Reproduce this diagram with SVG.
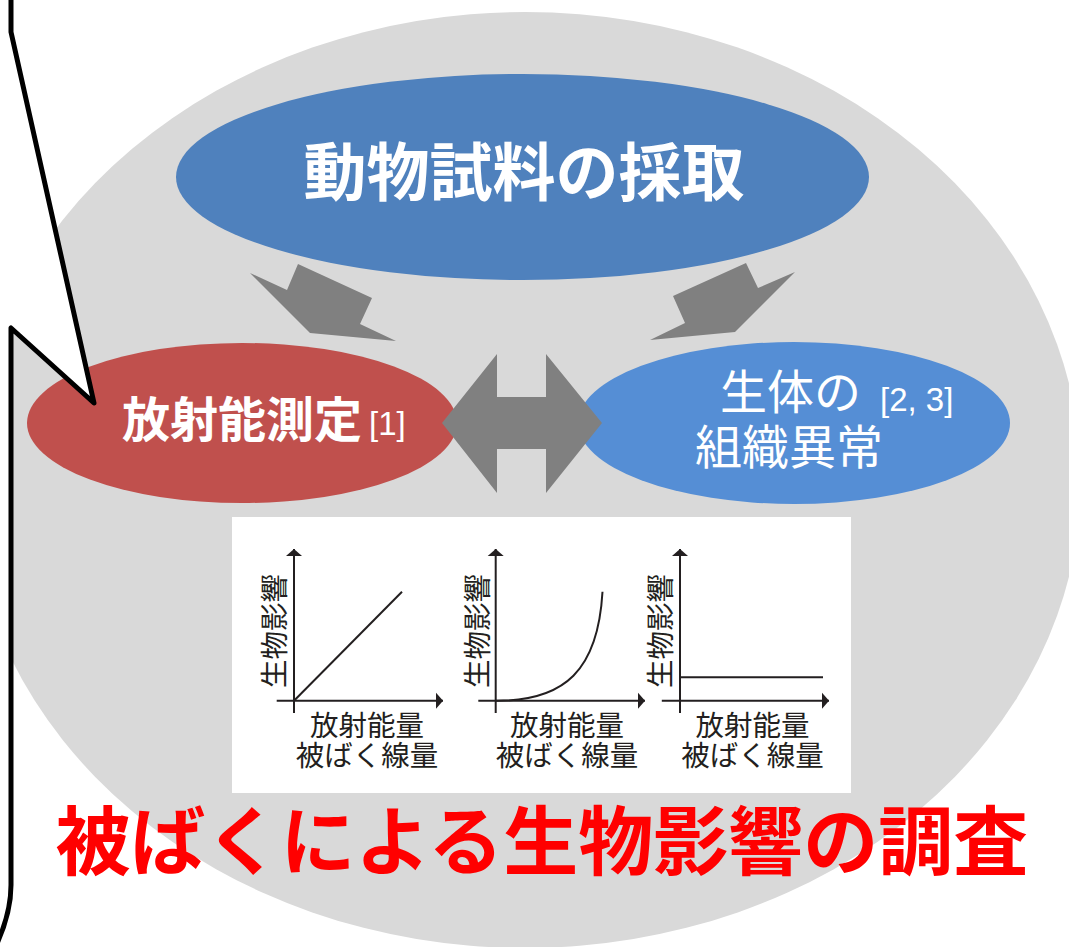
<svg xmlns="http://www.w3.org/2000/svg" width="1069" height="947" viewBox="0 0 1069 947">
<style>
.jp{font-family:"Noto Sans CJK JP","Noto Sans CJK SC",sans-serif}
.lat{font-family:"Liberation Sans",Arial,sans-serif}
.wb{fill:#fff;font-weight:700}
.wr{fill:#fff;font-weight:400}
.ax{stroke:#231f20;stroke-width:2;fill:none}
.lbl{fill:#231f20;font-size:28.5px;font-weight:400}
.arr{fill:#808080}
</style>
<defs>
<marker id="ah" markerUnits="userSpaceOnUse" markerWidth="10" markerHeight="18" viewBox="0 -9 8 18" refX="7" refY="0" orient="auto">
<path d="M0,-8 L7,0 L0,8 Z" fill="#231f20"/>
</marker>
</defs>

<g id="background">
<ellipse cx="525" cy="480" rx="556" ry="468" fill="#d9d9d9"/>
</g>

<g id="node-sampling">
<ellipse cx="522.5" cy="177" rx="346.5" ry="103" fill="#4f81bd"/>
<text class="jp wb" x="524" y="194.5" font-size="63" text-anchor="middle">動物試料の採取</text>
</g>

<g id="connectors">
<polygon class="arr" points="250,273 287,290 298,264 372,298 360,324 396,341 310,333"/>
<polygon class="arr" points="673,296 746,263 758,288 795,272 735,332 650,340 685,323"/>
</g>

<g id="node-radioactivity">
<ellipse cx="242" cy="423" rx="215" ry="80" fill="#c0504d"/>
<text class="jp wb" x="122" y="437" font-size="48">放射能測定</text>
<text class="lat wr" x="369" y="435" font-size="33">[1]</text>
</g>

<g id="node-tissue">
<ellipse cx="794" cy="423" rx="216" ry="81" fill="#558ed5"/>
<text class="jp wr" x="720" y="409" font-size="47">生体の</text>
<text class="lat wr" x="880" y="411" font-size="33">[2, 3]</text>
<text class="jp wr" x="695" y="464" font-size="47">組織異常</text>
</g>

<g id="connector-double">
<polygon class="arr" points="442,423 497,354 497,397 546,397 546,354 602,423 546,493 546,449 497,449 497,493"/>
</g>

<g id="graphs">
<rect x="232" y="517" width="619" height="276" fill="#fff"/>
<g id="graph-linear">
<path class="ax" d="M294,713 V549" marker-end="url(#ah)"/>
<path class="ax" d="M276.7,700.7 H443" marker-end="url(#ah)"/>
<path class="ax" d="M294,700.7 L402,591.7"/>
<text class="jp lbl" transform="translate(284.5,631) rotate(-90)" text-anchor="middle">生物影響</text>
<text class="jp lbl" x="367" y="736" text-anchor="middle">放射能量</text>
<text class="jp lbl" x="367" y="766" text-anchor="middle">被ばく線量</text>
</g>
<g id="graph-exponential">
<path class="ax" d="M495.7,713 V549" marker-end="url(#ah)"/>
<path class="ax" d="M478.3,700.7 H645" marker-end="url(#ah)"/>
<path class="ax" d="M495.7,700.7 C565,701 598,670 602.5,591.7"/>
<text class="jp lbl" transform="translate(488,631) rotate(-90)" text-anchor="middle">生物影響</text>
<text class="jp lbl" x="567" y="736" text-anchor="middle">放射能量</text>
<text class="jp lbl" x="567" y="766" text-anchor="middle">被ばく線量</text>
</g>
<g id="graph-constant">
<path class="ax" d="M680,713 V549" marker-end="url(#ah)"/>
<path class="ax" d="M661.8,700.7 H829" marker-end="url(#ah)"/>
<path class="ax" d="M680,677.3 H823"/>
<text class="jp lbl" transform="translate(671,631) rotate(-90)" text-anchor="middle">生物影響</text>
<text class="jp lbl" x="752.5" y="736" text-anchor="middle">放射能量</text>
<text class="jp lbl" x="752.5" y="766" text-anchor="middle">被ばく線量</text>
</g>
</g>

<g id="title">
<text class="jp" x="542" y="869" font-size="75" font-weight="700" fill="#ff0000" text-anchor="middle">被ばくによる生物影響の調査</text>
</g>

<g id="callout">
<path d="M-60,-10 L11,-10 L11,32 L94,403 L11,328 L11,885 Q11,915 -6,950 L-60,950 Z" fill="#fff" stroke="#000" stroke-width="5" stroke-linejoin="round"/>
</g>
</svg>
